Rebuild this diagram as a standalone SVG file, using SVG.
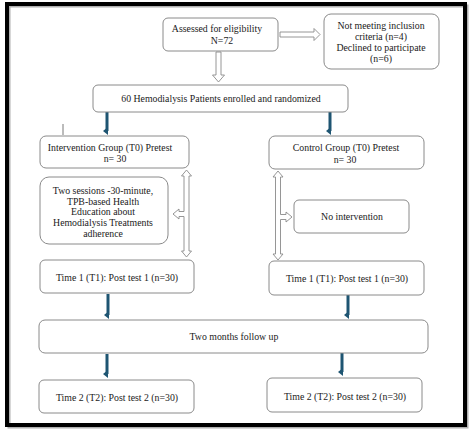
<svg xmlns="http://www.w3.org/2000/svg" width="470" height="430" viewBox="0 0 470 430">
<style>
.box{fill:#fff;stroke:#8a8a8a;stroke-width:1}
.t{font-family:"Liberation Serif","Times New Roman",serif;font-size:9.8px;fill:#1a1a1a;text-anchor:middle}
.hollow{fill:#fff;stroke:#8a8a8a;stroke-width:0.9}
.dark{stroke:#1e5572;stroke-width:3;fill:none}
</style>
<defs>
<marker id="ah" markerUnits="userSpaceOnUse" markerWidth="8" markerHeight="6" refX="4" refY="1" orient="auto-start-reverse" viewBox="0 0 8 6">
<path d="M0,0 L8,0 L4,5 Z" fill="#1e5572"/>
</marker>
</defs>
<rect x="0" y="0" width="470" height="430" fill="#fff"/>
<rect x="9" y="6" width="458" height="421" fill="none" stroke="#b0b0b0" stroke-width="3"/>
<rect x="7" y="4" width="458" height="421" fill="none" stroke="#000" stroke-width="4"/>

<g id="connectors">
<polygon class="hollow" points="280,32 314,32 314,28.5 320,34.5 314,40.5 314,37 280,37"/>
<polygon class="hollow" points="216,52 221,52 221,75 224.5,75 218.5,82 212.5,75 216,75"/>
<polygon class="hollow" points="186.5,170 191.5,176 189,176 189,251 191.5,251 186.5,257 181.5,251 184,251 184,216.5 179,216.5 179,219 173,214 179,209 179,211.5 184,211.5 184,176 181.5,176"/>
<polygon class="hollow" points="278,171 283,177 280.5,177 280.5,214.5 286,214.5 286,212 292,217 286,222 286,219.5 280.5,219.5 280.5,254 283,254 278,260 273,254 275.5,254 275.5,177 273,177"/>
<path class="dark" d="M107,112 V131" marker-end="url(#ah)"/>
<path class="dark" d="M330,112 V131" marker-end="url(#ah)"/>
<path class="dark" d="M108,294 V315" marker-end="url(#ah)"/>
<path class="dark" d="M348,295 V315" marker-end="url(#ah)"/>
<path class="dark" d="M107,354 V374" marker-end="url(#ah)"/>
<path class="dark" d="M342,353 V372" marker-end="url(#ah)"/>
<line x1="63" y1="124" x2="63" y2="135" stroke="#555" stroke-width="0.8"/>
</g>

<g id="assessed">
<rect class="box" x="163" y="18" width="115" height="33" rx="5"/>
<text class="t" x="217" y="32">Assessed for eligibility</text>
<text class="t" x="222" y="44">N=72</text>
</g>
<g id="excluded">
<rect class="box" x="324" y="14" width="115" height="55" rx="7"/>
<text class="t" x="381" y="29">Not meeting inclusion</text>
<text class="t" x="381" y="40">criteria (n=4)</text>
<text class="t" x="381" y="51">Declined to participate</text>
<text class="t" x="381" y="62">(n=6)</text>
</g>
<g id="enrolled">
<rect class="box" x="93" y="85" width="255" height="27" rx="5"/>
<text class="t" x="221" y="102">60 Hemodialysis Patients enrolled and randomized</text>
</g>
<g id="intervention">
<rect class="box" x="40" y="136" width="149" height="32" rx="6"/>
<text class="t" x="110" y="151">Intervention Group (T0) Pretest</text>
<text class="t" x="115" y="162">n= 30</text>
</g>
<g id="sessions">
<rect class="box" x="40" y="177" width="128" height="67" rx="9"/>
<text class="t" x="103" y="194">Two sessions -30-minute,</text>
<text class="t" x="103" y="204.5">TPB-based Health</text>
<text class="t" x="103" y="215">Education about</text>
<text class="t" x="103" y="226">Hemodialysis Treatments</text>
<text class="t" x="103" y="236.5">adherence</text>
</g>
<g id="t1left">
<rect class="box" x="40" y="260" width="154" height="33" rx="5"/>
<text class="t" x="117" y="281">Time 1 (T1): Post test 1 (n=30)</text>
</g>
<g id="control">
<rect class="box" x="269" y="136" width="155" height="33" rx="6"/>
<text class="t" x="346" y="151">Control Group (T0) Pretest</text>
<text class="t" x="345" y="163">n= 30</text>
</g>
<g id="nointervention">
<rect class="box" x="294" y="200" width="115" height="33" rx="5"/>
<text class="t" x="352" y="220">No intervention</text>
</g>
<g id="t1right">
<rect class="box" x="269" y="261" width="155" height="34" rx="5"/>
<text class="t" x="347" y="282">Time 1 (T1): Post test 1 (n=30)</text>
</g>
<g id="followup">
<rect class="box" x="39" y="320" width="389" height="33" rx="6"/>
<text class="t" x="234" y="340">Two months follow up</text>
</g>
<g id="t2left">
<rect class="box" x="39" y="380" width="155" height="33" rx="5"/>
<text class="t" x="117" y="401">Time 2 (T2): Post test 2 (n=30)</text>
</g>
<g id="t2right">
<rect class="box" x="267" y="378" width="155" height="34" rx="5"/>
<text class="t" x="345" y="400">Time 2 (T2): Post test 2 (n=30)</text>
</g>
</svg>
